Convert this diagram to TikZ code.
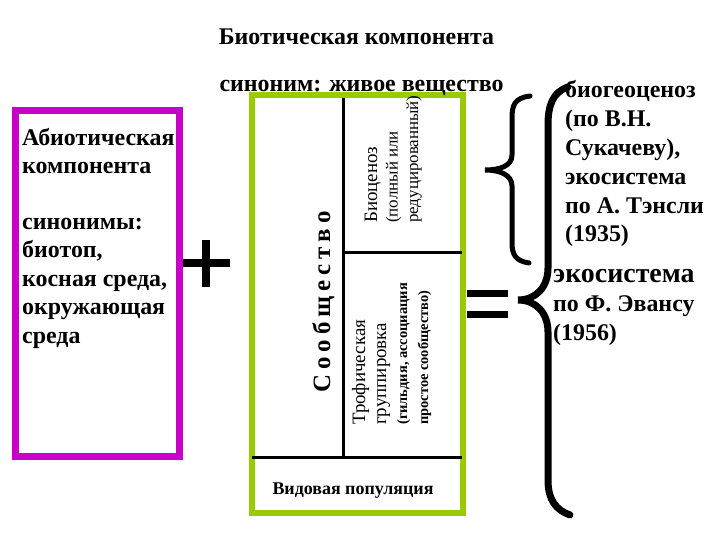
\documentclass[tikz,border=0pt]{standalone}
\usepackage{fontspec}
\setmainfont{Liberation Serif}
\definecolor{boxmag}{RGB}{200,0,200}
\definecolor{boxgrn}{RGB}{153,204,0}
\begin{document}
\begin{tikzpicture}[x=1bp,y=-1bp,
  magbox/.style={draw=boxmag,line width=7bp,inner sep=0pt},
  grnbox/.style={draw=boxgrn,line width=6bp,inner sep=0pt},
  divline/.style={line width=3bp},
  bracea/.style={line width=5bp,line cap=round},
  braceb/.style={line width=7bp,line cap=round},
  signline/.style={line width=8bp},
  eqline/.style={line width=7bp},
  bigtxt/.style={font=\bfseries\fontsize{24}{28.5}\selectfont,align=left,inner sep=0pt,anchor=base west},
  titletxt/.style={font=\bfseries\fontsize{24}{28}\selectfont,inner sep=0pt,anchor=base},
  rotblock/.style={rotate=90,align=left,inner sep=0pt,anchor=base west}]
\path[use as bounding box] (0,0) rectangle (720,540);

% boxes
\node[magbox,minimum width=163bp,minimum height=345bp] (abio) at (97.5,283.5) {};
\node[grnbox,minimum width=211bp,minimum height=418bp] (bio) at (357.5,304) {};

% inner dividers
\coordinate (v1) at (343,98);
\coordinate (v2) at (343,457);
\coordinate (h1a) at (343,253);
\coordinate (h1b) at (462,253);
\coordinate (h2a) at (252,457);
\coordinate (h2b) at (462,457);
\draw[divline] (v1) -- (v2);
\draw[divline] (h1a) -- (h1b);
\draw[divline] (h2a) -- (h2b);

% titles
\node[titletxt] (title) at (356.5,45) {Биотическая компонента};
\node[titletxt] (syn) at (361.5,92) {синоним: живое вещество};

% left box text
\node[bigtxt] (abiotxt) at (22,343) {Абиотическая\\компонента\\[27.5bp]синонимы:\\биотоп,\\косная среда,\\окружающая\\среда};

% plus and equals
\coordinate (pl) at (183,263);
\coordinate (pr) at (230,263);
\coordinate (pt) at (206,240);
\coordinate (pb) at (206,287);
\draw[signline] (pl) -- (pr);
\draw[signline] (pt) -- (pb);
\coordinate (e1l) at (467,293);
\coordinate (e1r) at (508,293);
\coordinate (e2l) at (467,314);
\coordinate (e2r) at (508,314);
\draw[eqline] (e1l) -- (e1r);
\draw[eqline] (e2l) -- (e2r);

% rotated texts
\node[rotate=90,inner sep=0pt,anchor=base,font=\bfseries\fontsize{25}{30}\selectfont] (soob) at (330,302) {\spaceskip=5bp С о о б щ е с т в о};
\node[rotblock,font=\fontsize{17}{20.5}\selectfont] (bioc) at (418,223) {{\fontsize{19}{20.5}\selectfont Биоценоз}\\(полный или\\редуцированный)};
\node[rotblock,font=\fontsize{19}{21}\selectfont] (trof) at (428,425) {Трофическая\\группировка\\{\bfseries\fontsize{14.5}{21}\selectfont (гильдия, ассоциация}\\{\bfseries\fontsize{14.5}{21}\selectfont простое сообщество)}};
\node[font=\bfseries\fontsize{18}{20}\selectfont,inner sep=0pt,anchor=base] (pop) at (353,494) {Видовая популяция};

% braces
\draw[bracea] (530,96) .. controls (514,98) and (512,106) .. (512,118) -- (512,155) .. controls (512,166) and (500,170) .. (485,170) .. controls (500,170) and (512,175) .. (512,186) -- (512,243) .. controls (512,255) and (516,261) .. (529,263);
\draw[braceb] (568,87) .. controls (553,92) and (548,105) .. (548,125) -- (548,268) .. controls (548,288) and (535,300) .. (518,300) .. controls (535,300) and (548,312) .. (548,332) -- (548,480) .. controls (548,500) and (556,510) .. (570,515);

% right texts
\node[bigtxt,font=\bfseries\fontsize{24}{29}\selectfont] (bgc) at (565,242) {биогеоценоз\\(по В.Н.\\Сукачеву),\\экосистема\\по А. Тэнсли\\(1935)};
\node[bigtxt,font=\bfseries\fontsize{24}{29}\selectfont] (eco) at (553,340) {{\fontsize{28}{29}\selectfont экосистема}\\по Ф. Эвансу\\(1956)};
\end{tikzpicture}
\end{document}
